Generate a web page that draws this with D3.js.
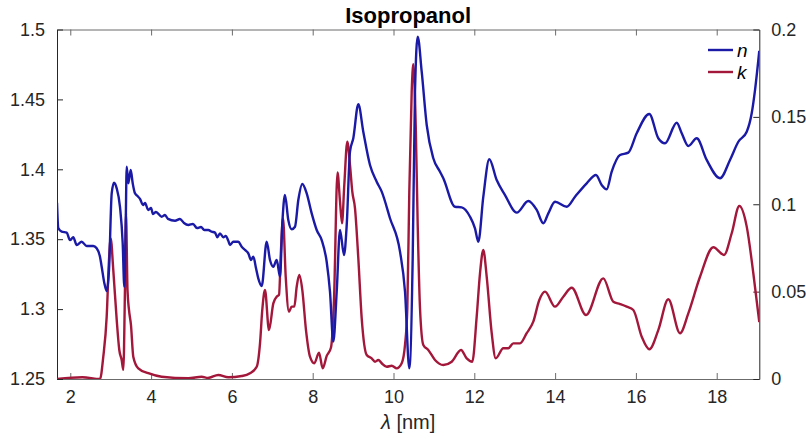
<!DOCTYPE html>
<html><head><meta charset="utf-8">
<script src="https://cdn.jsdelivr.net/npm/d3@7"></script>
<style>body{margin:0;background:#fff}svg{display:block}</style>
</head><body>
<svg id="c" width="806" height="439"></svg>
<script>
const title = "Isopropanol";
const xLimits = [1.671, 19.054];
const nLimits = [1.25, 1.5];
const kLimits = [0, 0.2];
const xTicks = [2,4,6,8,10,12,14,16,18];
const nTicks = [1.25,1.3,1.35,1.4,1.45,1.5];
const kTicks = [0,0.05,0.1,0.15,0.2];
const seriesNames = ["n","k"];

const nLambda = [1.671,1.703,1.787,1.911,1.993,2.074,2.158,2.282,2.406,2.569,2.653,2.735,2.777,2.842,2.901,2.958,3.025,3.082,3.149,3.230,3.297,3.337,3.371,3.396,3.436,3.495,3.545,3.601,3.663,3.725,3.800,3.849,3.931,3.998,4.047,4.121,4.262,4.344,4.418,4.592,4.715,4.814,4.921,5.037,5.136,5.235,5.317,5.416,5.500,5.582,5.639,5.705,5.787,5.847,5.911,5.953,6.035,6.158,6.243,6.324,6.406,6.473,6.530,6.597,6.653,6.738,6.861,6.943,7.025,7.109,7.191,7.248,7.314,7.396,7.480,7.562,7.644,7.743,7.851,7.975,8.099,8.223,8.347,8.428,8.510,8.594,8.676,8.775,8.842,8.923,9.005,9.129,9.252,9.418,9.584,9.708,9.913,10.161,10.285,10.391,10.475,10.532,10.599,10.698,10.822,10.985,11.151,11.233,11.522,11.688,11.894,12.017,12.099,12.223,12.371,12.554,12.760,13.050,13.337,13.545,13.708,13.832,13.998,14.287,14.493,14.782,15.012,15.153,15.277,15.401,15.606,15.812,16.020,16.332,16.554,16.720,17.010,17.134,17.297,17.505,17.752,18.082,18.329,18.535,18.743,18.866,18.948,19.054];
const nValues = [1.376,1.358,1.3554,1.3547,1.3494,1.3514,1.3459,1.3482,1.3451,1.3451,1.3435,1.3375,1.3303,1.3187,1.3129,1.328,1.3828,1.3904,1.3864,1.3732,1.3471,1.316,1.3589,1.4019,1.390,1.3995,1.390,1.3828,1.3809,1.3788,1.3745,1.3759,1.3709,1.3723,1.368,1.3695,1.3661,1.3673,1.3645,1.3632,1.3645,1.3616,1.3602,1.3609,1.358,1.3587,1.3566,1.3566,1.3554,1.3547,1.3514,1.3542,1.3514,1.3523,1.3489,1.3459,1.3482,1.3482,1.3446,1.3423,1.3399,1.3351,1.3375,1.3292,1.322,1.3165,1.3482,1.3351,1.3303,1.3351,1.3232,1.3614,1.3816,1.3637,1.3571,1.3589,1.378,1.3895,1.3828,1.3685,1.3566,1.3494,1.3337,1.3124,1.2767,1.3124,1.3566,1.3387,1.3602,1.4126,1.4222,1.4465,1.4269,1.4031,1.3911,1.384,1.365,1.3411,1.3124,1.2577,1.3363,1.4555,1.4949,1.4698,1.4317,1.4079,1.3983,1.3936,1.3732,1.3728,1.3661,1.3578,1.3482,1.3804,1.4072,1.3923,1.3816,1.369,1.3773,1.3709,1.3614,1.3685,1.3768,1.3732,1.3804,1.390,1.3959,1.3888,1.3857,1.3983,1.4102,1.4119,1.4258,1.4396,1.4222,1.4186,1.4333,1.4258,1.4167,1.4222,1.4067,1.3936,1.4067,1.4197,1.4269,1.4401,1.4567,1.4848];

const kLambda = [1.671,2.300,2.735,2.817,2.901,2.958,3.000,3.064,3.149,3.213,3.272,3.312,3.354,3.379,3.416,3.453,3.502,3.559,3.683,3.931,4.262,4.921,5.252,5.408,5.663,5.911,6.243,6.448,6.614,6.696,6.752,6.819,6.918,7.025,7.109,7.166,7.215,7.265,7.332,7.413,7.480,7.545,7.604,7.668,7.743,7.834,7.933,8.040,8.156,8.248,8.347,8.453,8.527,8.614,8.676,8.725,8.782,8.856,8.923,8.980,9.047,9.129,9.213,9.337,9.460,9.542,9.624,9.708,9.832,9.956,10.079,10.203,10.285,10.342,10.391,10.450,10.490,10.550,10.599,10.656,10.738,10.861,11.027,11.233,11.441,11.671,11.812,11.950,12.059,12.141,12.223,12.307,12.431,12.530,12.718,12.842,12.965,13.131,13.297,13.460,13.609,13.750,13.998,14.203,14.411,14.765,15.193,15.441,15.606,15.772,15.936,16.144,16.332,16.554,16.802,17.092,17.297,17.587,17.916,18.181,18.371,18.559,18.743,18.906,19.054];
const kValues = [0,0.001,0,0.0128,0.0357,0.0681,0.0805,0.0624,0.0338,0.0166,0.0109,0.0052,0.0528,0.0948,0.0509,0.0395,0.0309,0.0128,0.0061,0.0033,0.0013,0.0004,0.0013,0.0006,0.0023,0.001,0.0017,0.0033,0.007,0.0204,0.0395,0.0509,0.028,0.0433,0.0471,0.0481,0.0738,0.092,0.0585,0.0385,0.0414,0.0414,0.0528,0.0595,0.0509,0.028,0.0128,0.009,0.015,0.0061,0.0132,0.018,0.0452,0.1182,0.1015,0.0891,0.111,0.1358,0.1225,0.1072,0.0977,0.0691,0.0347,0.0137,0.0118,0.0099,0.0109,0.009,0.007,0.0076,0.0061,0.009,0.0195,0.0405,0.1072,0.1644,0.1801,0.1453,0.0881,0.0405,0.0195,0.0166,0.0109,0.008,0.0099,0.0166,0.0118,0.0099,0.0357,0.0605,0.0738,0.0585,0.0262,0.0118,0.0176,0.0176,0.0204,0.0204,0.0262,0.0328,0.0452,0.05,0.0414,0.0471,0.0522,0.0366,0.0576,0.0442,0.0429,0.0414,0.0395,0.0242,0.017,0.028,0.0456,0.0262,0.0376,0.0585,0.0754,0.071,0.0834,0.099,0.0872,0.0605,0.0326];

const colN = "#1a1aa6", colK = "#a3173a";
const svg = d3.select("#c");
const L = 57, R = 759.3, T = 29.5, B = 379;
const x = d3.scaleLinear().domain(xLimits).range([L, R]);
const yN = d3.scaleLinear().domain(nLimits).range([B, T]);
const yK = d3.scaleLinear().domain(kLimits).range([B, T]);
const font = "'Liberation Sans', Arial, Helvetica, sans-serif";

svg.append("defs").append("clipPath").attr("id","clip")
  .append("rect").attr("x",L).attr("y",T-2).attr("width",R-L).attr("height",B-T+2);

const fmt = d => String(+d.toFixed(2));
const gB = svg.append("g").attr("transform",`translate(0,${B})`)
  .call(d3.axisBottom(x).tickValues(xTicks).tickSizeInner(-6).tickSizeOuter(0).tickPadding(11).tickFormat(d3.format("d")));
const gT = svg.append("g").attr("transform",`translate(0,${T})`)
  .call(d3.axisTop(x).tickValues(xTicks).tickSizeInner(-6).tickSizeOuter(0).tickFormat(""));
[gB,gT].forEach(g=>{g.select(".domain").attr("stroke","#6b6b6b");g.selectAll(".tick line").attr("stroke","#6b6b6b");});
gB.selectAll("text").attr("font-family",font).attr("font-size",18).attr("fill","#262626");
const gL = svg.append("g").attr("transform",`translate(${L},0)`)
  .call(d3.axisLeft(yN).tickValues(nTicks).tickSizeInner(-6).tickSizeOuter(0).tickPadding(12).tickFormat(fmt));
const gR = svg.append("g").attr("transform",`translate(${R},0)`)
  .call(d3.axisRight(yK).tickValues(kTicks).tickSizeInner(-6).tickSizeOuter(0).tickPadding(12).tickFormat(fmt));
[gL,gR].forEach(g=>{
  g.select(".domain").attr("stroke","#262626");
  g.selectAll(".tick line").attr("stroke","#262626");
  g.selectAll("text").attr("font-family",font).attr("font-size",18).attr("fill","#262626");
});

const plot = svg.append("g").attr("clip-path","url(#clip)");
const nData = nLambda.map((l,i)=>[l,nValues[i]]);
const kData = kLambda.map((l,i)=>[l,kValues[i]]);
plot.append("path").datum(kData).attr("fill","none").attr("stroke",colK).attr("stroke-width",2.4)
  .attr("stroke-linejoin","round").attr("d",d3.line().x(d=>x(d[0])).y(d=>yK(d[1])).curve(d3.curveMonotoneX));
plot.append("path").datum(nData).attr("fill","none").attr("stroke",colN).attr("stroke-width",2.4)
  .attr("stroke-linejoin","round").attr("d",d3.line().x(d=>x(d[0])).y(d=>yN(d[1])).curve(d3.curveMonotoneX));

svg.append("text").attr("x",(L+R)/2).attr("y",23).attr("text-anchor","middle")
  .attr("font-family",font).attr("font-weight","bold").attr("font-size",22).attr("fill","#000").text(title);
const xl = svg.append("text").attr("x",(L+R)/2).attr("y",429).attr("text-anchor","middle")
  .attr("font-family",font).attr("font-size",20).attr("fill","#262626");
xl.append("tspan").attr("font-style","italic").text("λ");
xl.append("tspan").text(" [nm]");

const leg = svg.append("g");
[[colN,seriesNames[0]],[colK,seriesNames[1]]].forEach((s,i)=>{
  const yy = 50 + i*22;
  leg.append("line").attr("x1",708).attr("x2",733).attr("y1",yy).attr("y2",yy).attr("stroke",s[0]).attr("stroke-width",2.4);
  leg.append("text").attr("x",737).attr("y",yy+6.5).attr("font-family",font).attr("font-style","italic")
    .attr("font-size",19).attr("fill","#000").text(s[1]);
});
</script>
</body></html>
